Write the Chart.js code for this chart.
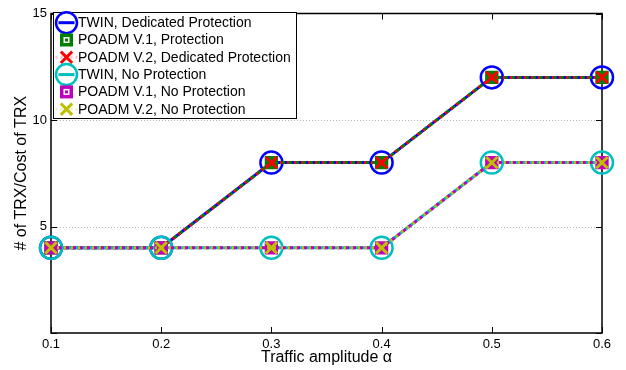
<!DOCTYPE html>
<html>
<head>
<meta charset="utf-8">
<script src="https://cdn.jsdelivr.net/npm/chart.js@4/dist/chart.umd.min.js"></script>
<style>
  html, body { margin: 0; padding: 0; background: #fff; }
  #wrap { width: 626px; height: 370px; position: relative; }
</style>
</head>
<body>
<div id="wrap"><canvas id="c" width="626" height="370"></canvas></div>
<script>
// Traffic amplitude values on the x axis
const alphaValues = [0.1, 0.2, 0.3, 0.4, 0.5, 0.6];
const xTickLabels = ['0.1', '0.2', '0.3', '0.4', '0.5', '0.6'];
const yTickValues = [0, 5, 10, 15];
const yTickLabels = ['', '5', '10', '15'];

// Number of transceivers per scheme
const twinDedicated = [4, 4, 8, 8, 12, 12];
const poadmV1Protection = [4, 4, 8, 8, 12, 12];
const poadmV2Dedicated = [4, 4, 8, 8, 12, 12];
const twinNoProtection = [4, 4, 4, 4, 8, 8];
const poadmV1NoProtection = [4, 4, 4, 4, 8, 8];
const poadmV2NoProtection = [4, 4, 4, 4, 8, 8];

const seriesLabels = [
  'TWIN, Dedicated Protection',
  'POADM V.1, Protection',
  'POADM V.2, Dedicated Protection',
  'TWIN, No Protection',
  'POADM V.1, No Protection',
  'POADM V.2, No Protection'
];

const FONT = '"Liberation Sans", Arial, Helvetica, sans-serif';

const toPoints = ys => alphaValues.map((x, i) => ({ x, y: ys[i] }));

function circleSeries(label, ys, color, order) {
  return {
    label, data: toPoints(ys), order, clip: false,
    borderColor: color, borderWidth: 3, borderDash: [],
    pointStyle: 'circle', pointRadius: 11, pointBorderWidth: 2.5,
    pointBorderColor: color, pointBackgroundColor: 'rgba(0,0,0,0)',
    pointHoverRadius: 11, legendKind: 'circle'
  };
}
function squareSeries(label, ys, color, order) {
  return {
    label, data: toPoints(ys), order, clip: false,
    borderColor: color, borderWidth: 3, borderDash: [4, 3], borderDashOffset: 0,
    pointStyle: 'rect', pointRadius: 8, pointBorderWidth: 2,
    pointBorderColor: color, pointBackgroundColor: color,
    pointHoverRadius: 8, legendKind: 'square'
  };
}
function crossSeries(label, ys, color, order) {
  return {
    label, data: toPoints(ys), order, clip: false,
    borderColor: color, borderWidth: 3, borderDash: [2, 5], borderDashOffset: 1,
    pointStyle: 'crossRot', pointRadius: 8, pointBorderWidth: 3,
    pointBorderColor: color, pointBackgroundColor: color,
    pointHoverRadius: 8, legendKind: 'cross'
  };
}

const datasets = [
  circleSeries(seriesLabels[0], twinDedicated, '#0000ff', 5),
  squareSeries(seriesLabels[1], poadmV1Protection, '#008000', 4),
  crossSeries(seriesLabels[2], poadmV2Dedicated, '#ff0000', 3),
  circleSeries(seriesLabels[3], twinNoProtection, '#00bfbf', 2),
  squareSeries(seriesLabels[4], poadmV1NoProtection, '#bf00bf', 1),
  crossSeries(seriesLabels[5], poadmV2NoProtection, '#bfbf00', 0)
];

// Dotted grid, axis box with inward ticks, and an in-plot legend
const framePlugin = {
  id: 'frame',
  beforeDatasetsDraw(chart) {
    const { ctx, chartArea: a, scales } = chart;
    ctx.save();
    ctx.strokeStyle = '#b4b4b4';
    ctx.lineWidth = 1;
    ctx.setLineDash([1, 2]);
    yTickValues.forEach(v => {
      if (v <= scales.y.min || v >= scales.y.max) return;
      const y = Math.round(scales.y.getPixelForValue(v)) + 0.5;
      ctx.beginPath(); ctx.moveTo(a.left, y); ctx.lineTo(a.right, y); ctx.stroke();
    });
    ctx.setLineDash([]);
    ctx.strokeStyle = '#000';
    ctx.lineWidth = 1.5;
    ctx.strokeRect(a.left, a.top, a.right - a.left, a.bottom - a.top);
    ctx.lineWidth = 1;
    const t = 6;
    alphaValues.forEach(v => {
      const x = Math.round(scales.x.getPixelForValue(v)) + 0.5;
      ctx.beginPath();
      ctx.moveTo(x, a.bottom); ctx.lineTo(x, a.bottom - t);
      ctx.moveTo(x, a.top); ctx.lineTo(x, a.top + t);
      ctx.stroke();
    });
    yTickValues.forEach(v => {
      const y = Math.round(scales.y.getPixelForValue(v)) + 0.5;
      ctx.beginPath();
      ctx.moveTo(a.left, y); ctx.lineTo(a.left + t, y);
      ctx.moveTo(a.right, y); ctx.lineTo(a.right - t, y);
      ctx.stroke();
    });
    ctx.restore();
  },
  afterDraw(chart) {
    const { ctx } = chart;
    const box = { x: 53.5, y: 12.5, w: 243, h: 106 };
    ctx.save();
    ctx.fillStyle = '#fff';
    ctx.fillRect(box.x, box.y, box.w, box.h);
    ctx.strokeStyle = '#000';
    ctx.lineWidth = 1;
    ctx.strokeRect(box.x, box.y, box.w, box.h);
    const rowH = 17.3, y0 = 22.7, cx = 66.5;
    chart.data.datasets.forEach((ds, i) => {
      const y = y0 + i * rowH;
      const c = ds.borderColor;
      ctx.setLineDash([]);
      if (ds.legendKind === 'circle') {
        ctx.strokeStyle = c; ctx.lineWidth = 3;
        ctx.beginPath(); ctx.moveTo(cx - 8, y); ctx.lineTo(cx + 8, y); ctx.stroke();
        ctx.lineWidth = 2.5;
        ctx.beginPath(); ctx.arc(cx, y, 10.5, 0, Math.PI * 2); ctx.stroke();
      } else if (ds.legendKind === 'square') {
        ctx.fillStyle = c;
        ctx.fillRect(cx - 6.5, y - 6.5, 13, 13);
        ctx.fillStyle = '#fff';
        ctx.fillRect(cx - 3, y - 3, 6, 6);
        ctx.fillStyle = c;
        ctx.fillRect(cx - 1.5, y - 1.5, 3, 3);
      } else {
        ctx.strokeStyle = c; ctx.globalAlpha = 0.25; ctx.lineWidth = 3;
        ctx.setLineDash([2, 3]);
        ctx.beginPath(); ctx.moveTo(cx - 11, y); ctx.lineTo(cx + 11, y); ctx.stroke();
        ctx.setLineDash([]);
        ctx.globalAlpha = 1;
        Chart.helpers.drawPoint(ctx, {
          pointStyle: 'crossRot', radius: 8, borderWidth: 3
        }, cx, y);
      }
      ctx.fillStyle = '#000';
      ctx.font = '14px ' + FONT;
      ctx.textBaseline = 'middle';
      ctx.textAlign = 'left';
      ctx.fillText(ds.label, 78, y + 0.5);
    });
    ctx.restore();
  }
};

// drawPoint needs stroke colour set on the context for the cross glyph
const origDrawPoint = Chart.helpers.drawPoint;

new Chart(document.getElementById('c'), {
  type: 'line',
  data: { datasets },
  options: {
    responsive: false,
    animation: false,
    events: [],
    devicePixelRatio: 1,
    layout: { padding: { left: 0, right: 24, top: 9, bottom: 0 } },
    plugins: { legend: { display: false }, tooltip: { enabled: false } },
    elements: { line: { tension: 0 } },
    scales: {
      x: {
        type: 'linear', min: 0.1, max: 0.6,
        afterBuildTicks: s => { s.ticks = alphaValues.map(v => ({ value: v })); },
        afterFit: s => { s.height = 37; },
        grid: { display: false, drawTicks: false },
        border: { display: false },
        ticks: {
          padding: 4, maxRotation: 0, autoSkip: false,
          color: '#000', font: { family: FONT, size: 13 },
          callback: (v, i) => xTickLabels[i]
        },
        title: {
          display: true, text: 'Traffic amplitude \u03b1', color: '#000',
          font: { family: FONT, size: 16 }, padding: { top: 0, bottom: 3 }
        }
      },
      y: {
        type: 'linear', min: 0, max: 15,
        afterBuildTicks: s => { s.ticks = yTickValues.map(v => ({ value: v })); },
        afterFit: s => { s.width = 51; },
        grid: { display: false, drawTicks: false },
        border: { display: false },
        ticks: {
          padding: 4, color: '#000', font: { family: FONT, size: 13 },
          callback: (v, i) => yTickLabels[i]
        },
        title: {
          display: true, text: '# of TRX/Cost of TRX', color: '#000',
          font: { family: FONT, size: 16 }, padding: { top: 12, bottom: 0 }
        }
      }
    }
  },
  plugins: [framePlugin]
});
</script>
</body>
</html>
